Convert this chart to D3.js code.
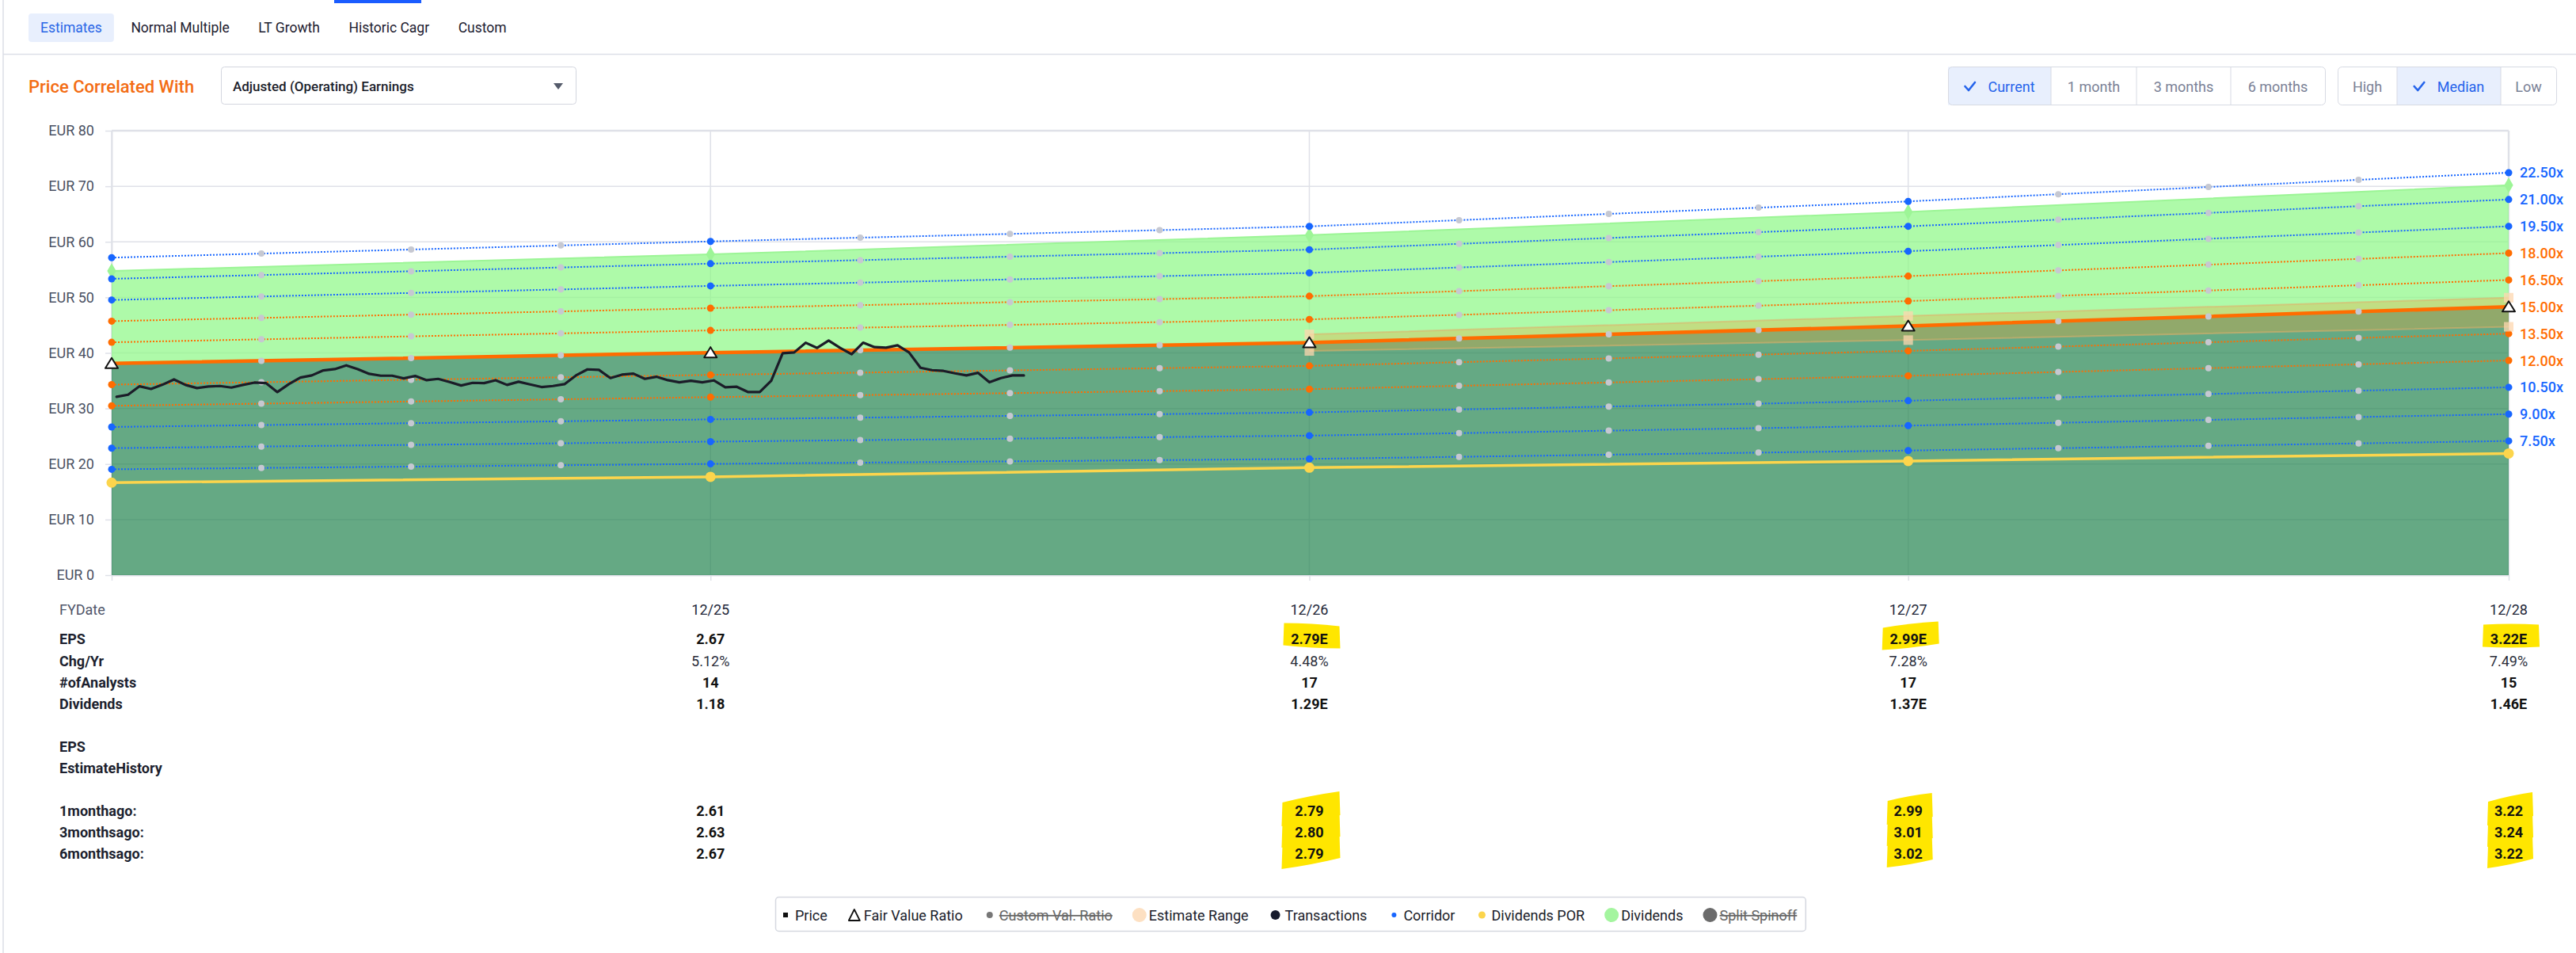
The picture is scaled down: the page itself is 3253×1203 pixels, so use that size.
<!DOCTYPE html>
<html>
<head>
<meta charset="utf-8">
<script src="https://cdn.jsdelivr.net/npm/d3@7"></script>
<style>
  html, body { margin: 0; padding: 0; background: #ffffff; }
  svg { display: block; font-family: Roboto, "Noto Sans", Arial, sans-serif; }
</style>
</head>
<body>
<svg id="chart" width="3253" height="1203"></svg>
<script>
// ---------------- DATA ----------------
const fyLabels = ["12/24", "12/25", "12/26", "12/27", "12/28"];
const fyDates = ["2024-12-31", "2025-12-31", "2026-12-31", "2027-12-31", "2028-12-31"];
const epsValues = [2.54, 2.67, 2.79, 2.99, 3.22];
const epsHigh = [null, null, 2.89, 3.11, 3.33];
const epsLow = [null, null, 2.69, 2.82, 2.98];
const dividendValues = [1.11, 1.18, 1.29, 1.37, 1.46];
const fairValueRatio = 15;
const corridorMultiples = [7.5, 9, 10.5, 12, 13.5, 16.5, 18, 19.5, 21, 22.5];
const yTicks = [0, 10, 20, 30, 40, 50, 60, 70, 80];

const priceStart = "2025-01-03";   // weekly closes
const priceValues = [
  32.10, 32.48, 34.00, 33.52, 34.28, 35.23, 34.24, 33.67, 33.95, 34.05,
  33.76, 34.24, 34.66, 34.57, 32.95, 34.38, 35.57, 35.95, 36.85, 37.09,
  37.76, 37.09, 36.23, 35.90, 35.90, 35.42, 35.85, 35.09, 35.33, 34.76,
  34.14, 34.62, 34.57, 35.09, 34.24, 34.81, 34.33, 33.86, 34.05, 34.38,
  35.95, 37.04, 36.95, 35.47, 36.09, 36.28, 35.33, 35.71, 35.09, 34.71,
  34.99, 34.71, 35.05, 33.81, 33.91, 32.95, 32.95, 34.99, 39.94, 40.09,
  41.84, 40.90, 42.23, 40.90, 39.76, 41.84, 41.04, 40.94, 41.37, 40.09,
  37.33, 36.90, 36.76, 36.33, 35.95, 36.42, 34.71, 35.47, 35.95, 35.95
];

// table
const tableCols = ["12/25", "12/26", "12/27", "12/28"];
const epsText = ["2.67", "2.79E", "2.99E", "3.22E"];
const epsIsEstimate = [false, true, true, true];
const chgYrText = ["5.12%", "4.48%", "7.28%", "7.49%"];
const analystsText = ["14", "17", "17", "15"];
const dividendsText = ["1.18", "1.29E", "1.37E", "1.46E"];
const hist1m = ["2.61", "2.79", "2.99", "3.22"];
const hist3m = ["2.63", "2.80", "3.01", "3.24"];
const hist6m = ["2.67", "2.79", "3.02", "3.22"];

// UI text
const tabs = ["Estimates", "Normal Multiple", "LT Growth", "Historic Cagr", "Custom"];
const periodButtons = ["Current", "1 month", "3 months", "6 months"];
const levelButtons = ["High", "Median", "Low"];
const legendItems = [
  {name: "Price", type: "square"},
  {name: "Fair Value Ratio", type: "triangle"},
  {name: "Custom Val. Ratio", type: "dotgrey", off: true},
  {name: "Estimate Range", type: "peach"},
  {name: "Transactions", type: "navy"},
  {name: "Corridor", type: "blue"},
  {name: "Dividends POR", type: "yellow"},
  {name: "Dividends", type: "green"},
  {name: "Split Spinoff", type: "grey", off: true}
];

// ---------------- STYLE ----------------
const C = {
  blue: "#1766ff", orange: "#ff6d00", grid: "#dfe1e8", text: "#1d2030",
  grey: "#c6c8d1", darkGreen: "rgba(35,133,80,0.70)", lightGreen: "rgba(139,248,132,0.70)",
  band: "rgba(230,170,60,0.35)", yellow: "#fcd54c", hl: "#ffe600"
};

const svg = d3.select("#chart");
const parse = d3.utcParse("%Y-%m-%d");
const fy = fyDates.map(parse);

const x = d3.scaleUtc().domain([fy[0], fy[fy.length - 1]]).range([141, 3168]);
const y = d3.scaleLinear().domain([0, 80]).range([726, 165]);

// ---------------- TOP UI ----------------
svg.append("rect").attr("x", 3).attr("y", 0).attr("width", 2).attr("height", 1203).attr("fill", "#e4e6ec");
svg.append("rect").attr("x", 422).attr("y", 0).attr("width", 110).attr("height", 4).attr("fill", "#1a5cff");
svg.append("line").attr("x1", 4).attr("x2", 3253).attr("y1", 68.5).attr("y2", 68.5)
  .attr("stroke", "#dcdfe7").attr("stroke-width", 1.5);

const tabG = svg.append("g");
let tx = 51;
tabs.forEach((t, i) => {
  const g = tabG.append("g");
  const txt = g.append("text").attr("x", tx).attr("y", 35).attr("dominant-baseline", "central")
    .attr("font-size", 17.5).attr("fill", i === 0 ? "#2a66e6" : C.text).text(t);
  const w = txt.node().getComputedTextLength();
  if (i === 0) {
    g.insert("rect", "text").attr("x", tx - 15).attr("y", 17).attr("width", w + 30).attr("height", 36)
      .attr("rx", 4).attr("fill", "#e8effd");
  }
  tx += w + 36.5;
});

svg.append("text").attr("x", 36).attr("y", 109).attr("dominant-baseline", "central")
  .attr("font-size", 22).attr("font-weight", 500).attr("fill", "#f36c13").text("Price Correlated With");
svg.append("rect").attr("x", 279.5).attr("y", 84.5).attr("width", 448).attr("height", 47)
  .attr("rx", 4).attr("fill", "#fff").attr("stroke", "#d3d6df");
svg.append("text").attr("x", 294).attr("y", 109).attr("dominant-baseline", "central")
  .attr("font-size", 17).attr("font-weight", 500).attr("fill", "#1b1e2b").text("Adjusted (Operating) Earnings");
svg.append("path").attr("d", "M699,105 L711,105 L705,113 Z").attr("fill", "#555b6b");

function buttonGroup(labels, x0, widths, activeIdx) {
  const total = d3.sum(widths);
  const g = svg.append("g");
  let cx = x0;
  widths.forEach((w, i) => {
    if (i === activeIdx) g.append("rect").attr("x", cx).attr("y", 84.5).attr("width", w).attr("height", 48).attr("fill", "#e8effd");
    if (i > 0) g.append("line").attr("x1", cx).attr("x2", cx).attr("y1", 84.5).attr("y2", 132.5).attr("stroke", "#d7dae3");
    const active = i === activeIdx;
    const t = g.append("text").attr("y", 109).attr("dominant-baseline", "central").attr("font-size", 18)
      .attr("fill", active ? "#2463eb" : "#7a8196").text(labels[i]);
    const len = t.node().getComputedTextLength();
    if (active) {
      const startX = cx + (w - (len + 30)) / 2;
      g.append("path").attr("d", `M${startX + 1},${109} l4.5,5 l8,-10`).attr("fill", "none")
        .attr("stroke", "#2463eb").attr("stroke-width", 2.6).attr("stroke-linecap", "round").attr("stroke-linejoin", "round");
      t.attr("x", startX + 30);
    } else {
      t.attr("x", cx + (w - len) / 2);
    }
    cx += w;
  });
  g.append("rect").attr("x", x0 + 0.5).attr("y", 84.5).attr("width", total).attr("height", 48)
    .attr("rx", 5).attr("fill", "none").attr("stroke", "#d7dae3");
}
buttonGroup(periodButtons, 2460, [130, 108, 119, 119], 0);
buttonGroup(levelButtons, 2952, [75, 131, 70], 1);

// ---------------- CHART ----------------
const plot = svg.append("g");

// grid
plot.append("g").selectAll("line").data(yTicks).join("line")
  .attr("x1", 141).attr("x2", 3168).attr("y1", d => y(d)).attr("y2", d => y(d))
  .attr("stroke", C.grid).attr("stroke-width", d => d === 80 ? 2.5 : 1.5);
plot.append("g").selectAll("line").data(fy).join("line")
  .attr("x1", d => x(d)).attr("x2", d => x(d)).attr("y1", y(80)).attr("y2", y(0))
  .attr("stroke", C.grid).attr("stroke-width", (d, i) => i === fy.length - 1 ? 2.5 : 1.5);

// axes
const yAxis = plot.append("g").attr("transform", "translate(141,0)")
  .call(d3.axisLeft(y).tickValues(yTicks).tickFormat(d => "EUR " + d).tickSize(8).tickPadding(14).tickSizeOuter(0));
yAxis.select(".domain").attr("stroke", C.grid).attr("stroke-width", 2);
yAxis.selectAll(".tick line").attr("stroke", C.grid).attr("stroke-width", 1.5);
yAxis.selectAll(".tick text").attr("font-size", 18).attr("fill", "#4b5162").attr("font-family", "Roboto");

const xAxis = plot.append("g").attr("transform", `translate(0,${y(0)})`)
  .call(d3.axisBottom(x).tickValues(fy).tickFormat("").tickSize(7).tickSizeOuter(0));
xAxis.select(".domain").attr("stroke", C.grid).attr("stroke-width", 2);
xAxis.selectAll(".tick line").attr("stroke", C.grid).attr("stroke-width", 1.5);

const pts = fy.map((d, i) => ({
  date: d, eps: epsValues[i], div: dividendValues[i], hi: epsHigh[i], lo: epsLow[i]
}));
const fvOf = d => d.eps * fairValueRatio;
const porOf = d => d.div * fairValueRatio;

// dark green area (0 -> fair value)
plot.append("path").datum(pts)
  .attr("d", d3.area().x(d => x(d.date)).y0(y(0)).y1(d => y(fvOf(d))))
  .attr("fill", C.darkGreen);
// light green area (fair value -> fair value + dividends)
plot.append("path").datum(pts)
  .attr("d", d3.area().x(d => x(d.date)).y0(d => y(fvOf(d))).y1(d => y(fvOf(d) + porOf(d))))
  .attr("fill", C.lightGreen);
plot.append("path").datum(pts)
  .attr("d", d3.line().x(d => x(d.date)).y(d => y(fvOf(d) + porOf(d))))
  .attr("fill", "none").attr("stroke", "#9cf596").attr("stroke-width", 2);
plot.append("g").selectAll("path").data(pts).join("path")
  .attr("transform", d => `translate(${x(d.date)},${y(fvOf(d) + porOf(d))})`)
  .attr("d", d3.symbol(d3.symbolDiamond, 110)).attr("fill", "#9df597");

// estimate range band
const est = pts.filter(d => d.hi != null);
plot.append("path").datum(est)
  .attr("d", d3.area().x(d => x(d.date)).y0(d => y(d.lo * fairValueRatio)).y1(d => y(d.hi * fairValueRatio)))
  .attr("fill", C.band);
["hi", "lo"].forEach(k => {
  plot.append("path").datum(est)
    .attr("d", d3.line().x(d => x(d.date)).y(d => y(d[k] * fairValueRatio)))
    .attr("fill", "none").attr("stroke", "rgba(225,175,105,0.55)").attr("stroke-width", 2);
});

// dividends POR line
plot.append("path").datum(pts)
  .attr("d", d3.line().x(d => x(d.date)).y(d => y(porOf(d))))
  .attr("fill", "none").attr("stroke", C.yellow).attr("stroke-width", 3.5);
plot.append("g").selectAll("circle").data(pts).join("circle")
  .attr("cx", d => x(d.date)).attr("cy", d => y(porOf(d))).attr("r", 6.5).attr("fill", C.yellow);

// quarter positions along each fiscal year segment
const epsAt = d3.scaleUtc().domain(fy).range(epsValues);
const quarterDates = [];
for (let i = 0; i < fy.length - 1; i++) {
  for (let q = 1; q < 4; q++) quarterDates.push(new Date(+fy[i] + (fy[i + 1] - fy[i]) * q / 4));
}

// corridor lines
const corridorColor = m => Math.abs(m - fairValueRatio) <= 3 ? C.orange : C.blue;
const corrG = plot.append("g");
corridorMultiples.forEach(m => {
  const col = corridorColor(m);
  corrG.append("path").datum(pts)
    .attr("d", d3.line().x(d => x(d.date)).y(d => y(d.eps * m)))
    .attr("fill", "none").attr("stroke", col).attr("stroke-width", 2).attr("stroke-dasharray", "2,2");
  corrG.append("g").selectAll("circle").data(quarterDates).join("circle")
    .attr("cx", d => x(d)).attr("cy", d => y(epsAt(d) * m)).attr("r", 4).attr("fill", C.grey);
  corrG.append("g").selectAll("circle").data(pts).join("circle")
    .attr("cx", d => x(d.date)).attr("cy", d => y(d.eps * m)).attr("r", 4.5).attr("fill", col);
});

// fair value line
plot.append("path").datum(pts)
  .attr("d", d3.line().x(d => x(d.date)).y(d => y(fvOf(d))))
  .attr("fill", "none").attr("stroke", C.orange).attr("stroke-width", 4.5);
plot.append("g").selectAll("circle").data(quarterDates).join("circle")
  .attr("cx", d => x(d)).attr("cy", d => y(epsAt(d) * fairValueRatio)).attr("r", 4).attr("fill", C.grey);

// estimate range caps
plot.append("g").selectAll("rect").data(est.flatMap(d => [[d.date, d.hi], [d.date, d.lo]])).join("rect")
  .attr("x", d => x(d[0]) - 6).attr("y", d => y(d[1] * fairValueRatio) - 6)
  .attr("width", 12).attr("height", 12).attr("fill", "rgba(253,215,175,0.75)");

// price line
const priceData = priceValues.map((v, i) => ({date: d3.utcDay.offset(parse(priceStart), 7 * i), v}));
plot.append("path").datum(priceData)
  .attr("d", d3.line().x(d => x(d.date)).y(d => y(d.v)))
  .attr("fill", "none").attr("stroke", "#1b1c28").attr("stroke-width", 3.2)
  .attr("stroke-linejoin", "round").attr("stroke-linecap", "round");

// fair value triangles
const triPath = "M-8,6 L8,6 L0,-7 Z";
plot.append("g").selectAll("path").data(pts).join("path")
  .attr("transform", d => `translate(${x(d.date)},${y(fvOf(d))})`)
  .attr("d", triPath).attr("fill", "#fff").attr("stroke", "#111").attr("stroke-width", 2)
  .attr("stroke-linejoin", "round");

// right labels
const lastPt = pts[pts.length - 1];
const allMultiples = corridorMultiples.concat([fairValueRatio]);
plot.append("g").selectAll("text").data(allMultiples).join("text")
  .attr("x", 3182).attr("y", m => y(lastPt.eps * m)).attr("dominant-baseline", "central")
  .attr("font-size", 18).attr("font-weight", 500)
  .attr("fill", m => m === fairValueRatio ? C.orange : corridorColor(m))
  .text(m => d3.format(".2f")(m) + "x");

// ---------------- TABLE ----------------
const colX = tableCols.map(c => x(fy[fyLabels.indexOf(c)]));
const tbl = svg.append("g").attr("font-size", 18).attr("dominant-baseline", "central");

function hlPath(cx, cy, w, h, skew) {
  const l = cx - w / 2, r = cx + w / 2, t = cy - h / 2, b = cy + h / 2;
  return `M${l},${t + skew / 2} Q${cx},${t - 2} ${r},${t - skew / 2} L${r + 1},${b - skew / 2} Q${cx},${b + 2} ${l - 1},${b + skew / 2} Z`;
}

// highlights for estimate values (EPS row)
const epsRowY = 806.5;
const hlEpsSkew = [0, -4, 8, 0];
tbl.append("g").selectAll("path").data(epsIsEstimate.map((e, i) => ({e, i})).filter(d => d.e)).join("path")
  .attr("d", d => hlPath(colX[d.i] + 3, epsRowY - 4, 70, 28, hlEpsSkew[d.i])).attr("fill", C.hl);

const histRowsY = [1023, 1050, 1077];
const histSkew = [0, 14, 10, 12];
histRowsY.forEach((ry, k) => {
  tbl.append("g").selectAll("path").data([1, 2, 3]).join("path")
    .attr("d", i => hlPath(colX[i] + 2, ry - 2, i === 1 ? 72 : 56, 30, histSkew[i]))
    .attr("fill", C.hl);
});

tbl.append("text").attr("x", 75).attr("y", 769).attr("fill", "#50566a").text("FYDate");
tbl.append("g").selectAll("text").data(tableCols).join("text")
  .attr("x", (d, i) => colX[i]).attr("y", 769).attr("text-anchor", "middle").attr("fill", "#24283a").text(d => d);

const rows = [
  {label: "EPS", y: 806.5, vals: epsText, bold: true},
  {label: "Chg/Yr", y: 834, vals: chgYrText, bold: false},
  {label: "#ofAnalysts", y: 861, vals: analystsText, bold: true},
  {label: "Dividends", y: 888, vals: dividendsText, bold: true},
  {label: "EPS", y: 942, vals: null},
  {label: "EstimateHistory", y: 969, vals: null},
  {label: "1monthago:", y: histRowsY[0], vals: hist1m, bold: true},
  {label: "3monthsago:", y: histRowsY[1], vals: hist3m, bold: true},
  {label: "6monthsago:", y: histRowsY[2], vals: hist6m, bold: true}
];
rows.forEach(r => {
  tbl.append("text").attr("x", 75).attr("y", r.y).attr("font-weight", 700).attr("fill", "#1c1f2e").text(r.label);
  if (r.vals) {
    tbl.append("g").selectAll("text").data(r.vals).join("text")
      .attr("x", (d, i) => colX[i]).attr("y", r.y).attr("text-anchor", "middle")
      .attr("font-weight", r.bold ? 700 : 400).attr("fill", r.bold ? "#111" : "#2a2d3a").text(d => d);
  }
});

// ---------------- LEGEND ----------------
const lg = svg.append("g");
const lgBox = lg.append("rect").attr("x", 979.5).attr("y", 1132.5).attr("height", 43).attr("rx", 4)
  .attr("fill", "#fff").attr("stroke", "#d5d8e0").attr("stroke-width", 1.5);
const lgY = 1155;
let cursor = 983;
legendItems.forEach(it => {
  const cx = cursor + 9;
  const g = lg.append("g");
  switch (it.type) {
    case "square": g.append("rect").attr("x", cx - 3).attr("y", lgY - 3).attr("width", 6).attr("height", 6).attr("fill", "#111"); break;
    case "triangle": g.append("path").attr("transform", `translate(${cx},${lgY})`).attr("d", "M-7,7 L7,7 L0,-7 Z")
      .attr("fill", "#fff").attr("stroke", "#111").attr("stroke-width", 1.8).attr("stroke-linejoin", "round"); break;
    case "dotgrey": g.append("circle").attr("cx", cx).attr("cy", lgY).attr("r", 4).attr("fill", "#777"); break;
    case "peach": g.append("circle").attr("cx", cx).attr("cy", lgY).attr("r", 9).attr("fill", "#fde0c2"); break;
    case "navy": g.append("circle").attr("cx", cx).attr("cy", lgY).attr("r", 6).attr("fill", "#171b2c"); break;
    case "blue": g.append("circle").attr("cx", cx).attr("cy", lgY).attr("r", 3).attr("fill", C.blue); break;
    case "yellow": g.append("circle").attr("cx", cx).attr("cy", lgY).attr("r", 4.5).attr("fill", C.yellow); break;
    case "green": g.append("circle").attr("cx", cx).attr("cy", lgY).attr("r", 9).attr("fill", "#a4f59f"); break;
    case "grey": g.append("circle").attr("cx", cx).attr("cy", lgY).attr("r", 9).attr("fill", "#6b6b6b"); break;
  }
  const t = g.append("text").attr("x", cursor + 21).attr("y", lgY).attr("dominant-baseline", "central")
    .attr("font-size", 18).attr("fill", it.off ? "#666" : "#1a1d2b")
    .attr("text-decoration", it.off ? "line-through" : null).text(it.name);
  cursor = cursor + 21 + t.node().getComputedTextLength() + 25;
});
lgBox.attr("width", cursor - 25 + 11 - 979.5);
</script>
</body>
</html>
